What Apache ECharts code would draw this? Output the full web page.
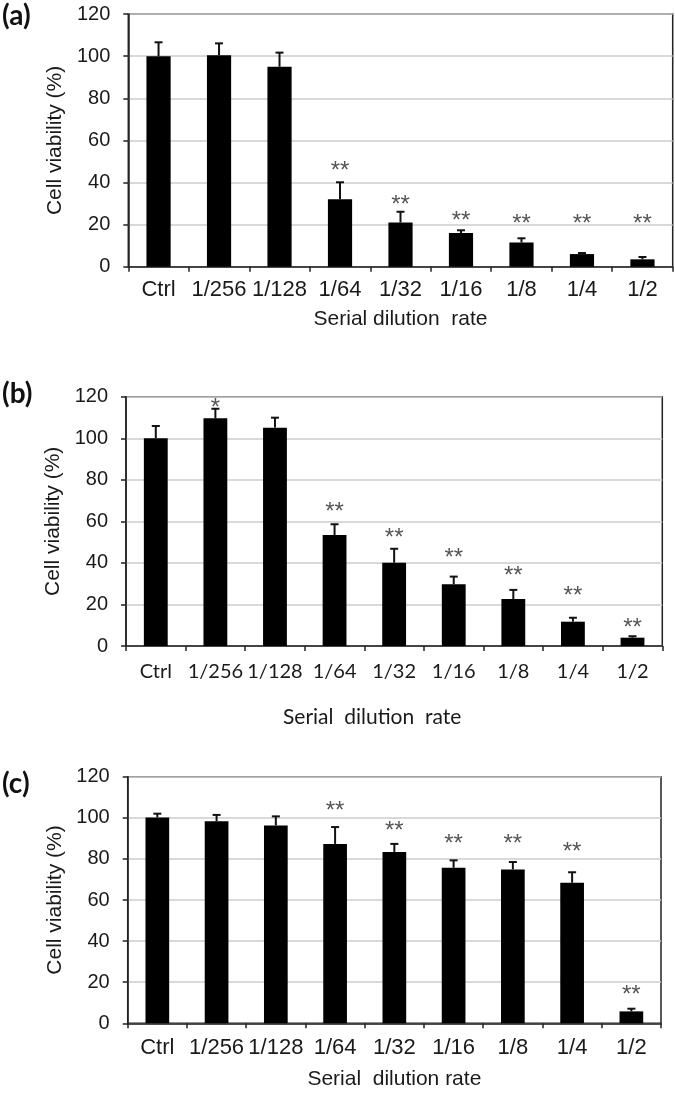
<!DOCTYPE html>
<html><head><meta charset="utf-8">
<script src="https://cdn.jsdelivr.net/npm/echarts@6/dist/echarts.min.js"></script>
<style>html,body{margin:0;padding:0;background:#fff}#c{width:675px;height:1094px}</style>
</head><body><div id="c"></div><script>
// ---- data ----
const categories = ['Ctrl','1/256','1/128','1/64','1/32','1/16','1/8','1/4','1/2'];
const yMin = 0, yMax = 120, yStep = 20;
const panelLabels = ['(a)','(b)','(c)'];
const xNames = ['Serial dilution  rate','Serial  dilution  rate','Serial  dilution rate'];
const yName = 'Cell viability (%)';

const meanA = [100, 100.5, 95, 32, 21, 16, 11.5, 6, 3.5];
const sdA   = [6.6, 5.6, 6.7, 8.1, 5.1, 1.3, 2.0, 0.5, 1.1];
const starA = ['', '', '', '**', '**', '**', '**', '**', '**'];
const starYA = [null, null, null, 48.3, 32, 24.6, 23, 23, 23];

const meanB = [100, 109.6, 105.1, 53.4, 40.1, 29.7, 22.6, 11.7, 4.0];
const sdB   = [5.9, 4.6, 4.8, 5.2, 6.7, 3.7, 4.4, 1.9, 0.7];
const starB = ['', '*', '', '**', '**', '**', '**', '**', '**'];
const starYB = [null, 117.3, null, 67.1, 54.7, 45.1, 36.2, 26.6, 11.6];

const meanC = [100.2, 98.3, 96.3, 87.3, 83.4, 75.7, 74.9, 68.4, 5.8];
const sdC   = [1.8, 3.1, 4.4, 8.2, 3.9, 3.6, 3.6, 5.1, 1.3];
const starC = ['', '', '', '**', '**', '**', '**', '**', '**'];
const starYC = [null, null, null, 106.2, 96.2, 90.0, 90.0, 85.9, 16.3];

// ---- layout / styles ----
const ARIAL = 'Liberation Sans, Arial, sans-serif';
const CALI = 'Lato, Open Sans, sans-serif';
const panels = [
  {mean: meanA, sd: sdA, star: starA, starY: starYA,
   grid: {left: 128.3, top: 14.1, width: 544.4, height: 252.6},
   xFont: ARIAL, xSize: 22, xMargin: 12, nameFont: ARIAL, nameSize: 21, nameGap: 42, namePad: [0,0,0,0],
   labelTop: 2, yGap: 60},
  {mean: meanB, sd: sdB, star: starB, starY: starYB,
   grid: {left: 126, top: 396.7, width: 536.3, height: 249.3},
   xFont: CALI, xSize: 20, xMargin: 16, nameFont: CALI, nameSize: 21, nameGap: 61, namePad: [0,44,0,0],
   labelTop: 380, yGap: 60},
  {mean: meanC, sd: sdC, star: starC, starY: starYC,
   grid: {left: 127.7, top: 776.7, width: 533.3, height: 246.6},
   xFont: ARIAL, xSize: 22, xMargin: 14, nameFont: ARIAL, nameSize: 21, nameGap: 45, namePad: [0,0,0,0],
   labelTop: 770, yGap: 60}
];

function errorRender(params, api) {
  const i = api.value(0);
  const base = api.coord([i, api.value(1)]);
  const top = api.coord([i, api.value(1) + api.value(2)]);
  const cap = 4;
  const style = {stroke: '#111', lineWidth: 2};
  return {type: 'group', children: [
    {type: 'line', shape: {x1: base[0], y1: base[1], x2: top[0], y2: top[1]}, style: style},
    {type: 'line', shape: {x1: top[0] - cap, y1: top[1], x2: top[0] + cap, y2: top[1]}, style: style}
  ]};
}

const option = {
  backgroundColor: '#fff',
  animation: false,
  title: panels.map((p, k) => ({
    text: panelLabels[k], left: 2, top: p.labelTop, padding: 0,
    textStyle: {fontFamily: CALI, fontWeight: 'bold', fontSize: 28, color: '#111'}
  })),
  grid: panels.map(p => Object.assign({show: true, borderColor: '#222', borderWidth: 1.5, backgroundColor: 'transparent'}, p.grid)),
  xAxis: panels.map((p, k) => ({
    type: 'category', gridIndex: k, data: categories,
    axisLine: {lineStyle: {color: '#222', width: 1.5}},
    axisTick: {show: true, length: 5, interval: 0, lineStyle: {color: '#222', width: 1.5}},
    axisLabel: {interval: 0, margin: p.xMargin, fontFamily: p.xFont, fontSize: p.xSize, color: '#1a1a1a'},
    name: xNames[k], nameLocation: 'middle', nameGap: p.nameGap,
    nameTextStyle: {fontFamily: p.nameFont, fontSize: p.nameSize, color: '#1a1a1a', padding: p.namePad}
  })),
  yAxis: panels.map((p, k) => ({
    type: 'value', gridIndex: k, min: yMin, max: yMax, interval: yStep,
    axisLine: {show: true, lineStyle: {color: '#222', width: 1.5}},
    axisTick: {show: true, length: 5, lineStyle: {color: '#222', width: 1.5}},
    axisLabel: {margin: 18, fontFamily: ARIAL, fontSize: 20, color: '#1a1a1a'},
    splitLine: {show: true, lineStyle: {color: '#cccccc', width: 1.5}},
    name: yName, nameLocation: 'middle', nameRotate: 90, nameGap: p.yGap,
    nameTextStyle: {fontFamily: ARIAL, fontSize: 21, color: '#1a1a1a'}
  })),
  series: panels.flatMap((p, k) => [
    {type: 'bar', xAxisIndex: k, yAxisIndex: k, data: p.mean, barWidth: '40%',
     itemStyle: {color: '#000'}},
    {type: 'custom', xAxisIndex: k, yAxisIndex: k, renderItem: errorRender, z: 3,
     data: categories.map((c, i) => [i, p.mean[i], p.sd[i]])},
    {type: 'scatter', xAxisIndex: k, yAxisIndex: k, symbolSize: 1, z: 4,
     itemStyle: {color: 'rgba(0,0,0,0)'},
     data: categories.map((c, i) => [i, p.starY[i], p.star[i]]).filter(d => d[1] !== null),
     label: {show: true, position: 'inside', formatter: q => q.value[2],
             fontFamily: ARIAL, fontSize: 24, color: '#2a2a2a', offset: [0, 6]}}
  ])
};
const chart = echarts.init(document.getElementById('c'), null, {renderer: 'canvas'});
chart.setOption(option);
</script></body></html>
